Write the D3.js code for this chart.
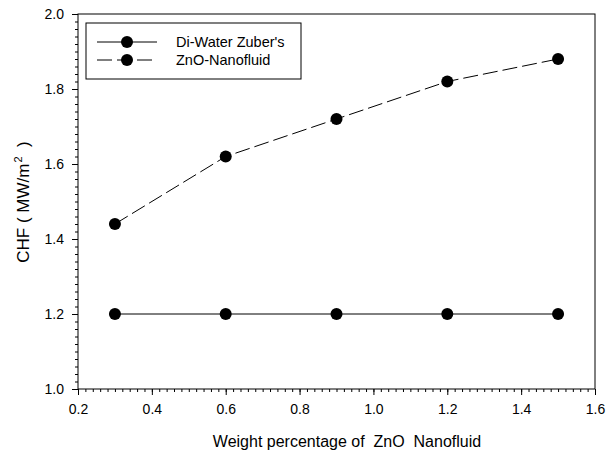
<!DOCTYPE html>
<html>
<head>
<meta charset="utf-8">
<script src="https://cdn.jsdelivr.net/npm/d3@7"></script>
<style>
  body { margin: 0; background: #fff; }
  text { font-family: "Liberation Sans", Arial, sans-serif; fill: #000; }
</style>
</head>
<body>
<div id="chart"></div>
<script>
const weights = [0.3, 0.6, 0.9, 1.2, 1.5];
const zuber = [1.2, 1.2, 1.2, 1.2, 1.2];
const nanofluid = [1.44, 1.62, 1.72, 1.82, 1.88];
const seriesNames = ["Di-Water Zuber's", "ZnO-Nanofluid"];
const xTicks = [0.2, 0.4, 0.6, 0.8, 1.0, 1.2, 1.4, 1.6];
const yTicks = [1.0, 1.2, 1.4, 1.6, 1.8, 2.0];

const W = 606, H = 453;
const plotL = 78, plotR = 595, plotT = 14, plotB = 389;

const svg = d3.select("#chart").append("svg")
  .attr("width", W).attr("height", H);

const x = d3.scaleLinear().domain([0.2, 1.6]).range([plotL, plotR]);
const y = d3.scaleLinear().domain([1.0, 2.0]).range([plotB, plotT]);

// frame
svg.append("rect")
  .attr("x", plotL).attr("y", plotT)
  .attr("width", plotR - plotL).attr("height", plotB - plotT)
  .attr("fill", "none").attr("stroke", "#000").attr("stroke-width", 1);

// minor ticks
const xMinor = d3.range(0.2, 1.6001, 0.02);
const yMinor = d3.range(1.0, 2.0001, 0.02);

svg.append("g")
  .attr("transform", "translate(0," + plotB + ")")
  .call(d3.axisBottom(x).tickValues(xMinor).tickSize(3).tickFormat(""))
  .call(g => g.select(".domain").remove());

svg.append("g")
  .attr("transform", "translate(" + plotL + ",0)")
  .call(d3.axisLeft(y).tickValues(yMinor).tickSize(3).tickFormat(""))
  .call(g => g.select(".domain").remove());

// major ticks
const xAxis = svg.append("g")
  .attr("transform", "translate(0," + plotB + ")")
  .call(d3.axisBottom(x).tickValues(xTicks).tickSize(6).tickPadding(9).tickFormat(d3.format(".1f")));
xAxis.select(".domain").remove();
xAxis.selectAll("text").attr("font-size", 14).attr("font-family", "Liberation Sans, Arial, sans-serif");

const yAxis = svg.append("g")
  .attr("transform", "translate(" + plotL + ",0)")
  .call(d3.axisLeft(y).tickValues(yTicks).tickSize(6).tickPadding(8).tickFormat(d3.format(".1f")));
yAxis.select(".domain").remove();
yAxis.selectAll("text").attr("font-size", 14).attr("font-family", "Liberation Sans, Arial, sans-serif");

// axis titles
svg.append("text")
  .attr("x", 347).attr("y", 447)
  .attr("text-anchor", "middle")
  .attr("font-size", 16)
  .style("white-space", "pre")
  .text("Weight percentage of  ZnO  Nanofluid");

const yt = svg.append("text")
  .attr("transform", "translate(29,202) rotate(-90)")
  .attr("text-anchor", "middle")
  .attr("font-size", 17)
  .style("white-space", "pre");
yt.append("tspan").text("CHF ( MW/m");
yt.append("tspan").attr("font-size", 11).attr("dy", -7).attr("dx", 1).text("2");
yt.append("tspan").attr("dy", 7).text("  )");

// series
const line = d3.line().x(d => x(d[0])).y(d => y(d[1]));
const dash = "15,5";

const s1 = weights.map((w, i) => [w, zuber[i]]);
const s2 = weights.map((w, i) => [w, nanofluid[i]]);

svg.append("path").datum(s1).attr("d", line)
  .attr("fill", "none").attr("stroke", "#000").attr("stroke-width", 1);
svg.append("path").datum(s2).attr("d", line)
  .attr("fill", "none").attr("stroke", "#000").attr("stroke-width", 1)
  .attr("stroke-dasharray", dash);

[s1, s2].forEach(s => {
  svg.append("g").selectAll("circle").data(s).join("circle")
    .attr("cx", d => x(d[0])).attr("cy", d => y(d[1]))
    .attr("r", 6).attr("fill", "#000");
});

// legend
const lg = svg.append("g");
lg.append("rect")
  .attr("x", 86).attr("y", 23).attr("width", 215).attr("height", 56)
  .attr("fill", "#fff").attr("stroke", "#000").attr("stroke-width", 1);

seriesNames.forEach((name, i) => {
  const ly = 42 + i * 18;
  lg.append("line")
    .attr("x1", 97).attr("x2", 157).attr("y1", ly).attr("y2", ly)
    .attr("stroke", "#000").attr("stroke-width", 1)
    .attr("stroke-dasharray", i === 1 ? dash : null);
  lg.append("circle").attr("cx", 127).attr("cy", ly).attr("r", 6).attr("fill", "#000");
  lg.append("text")
    .attr("x", 176).attr("y", ly + 5)
    .attr("font-size", 14.5)
    .text(name);
});
</script>
</body>
</html>
